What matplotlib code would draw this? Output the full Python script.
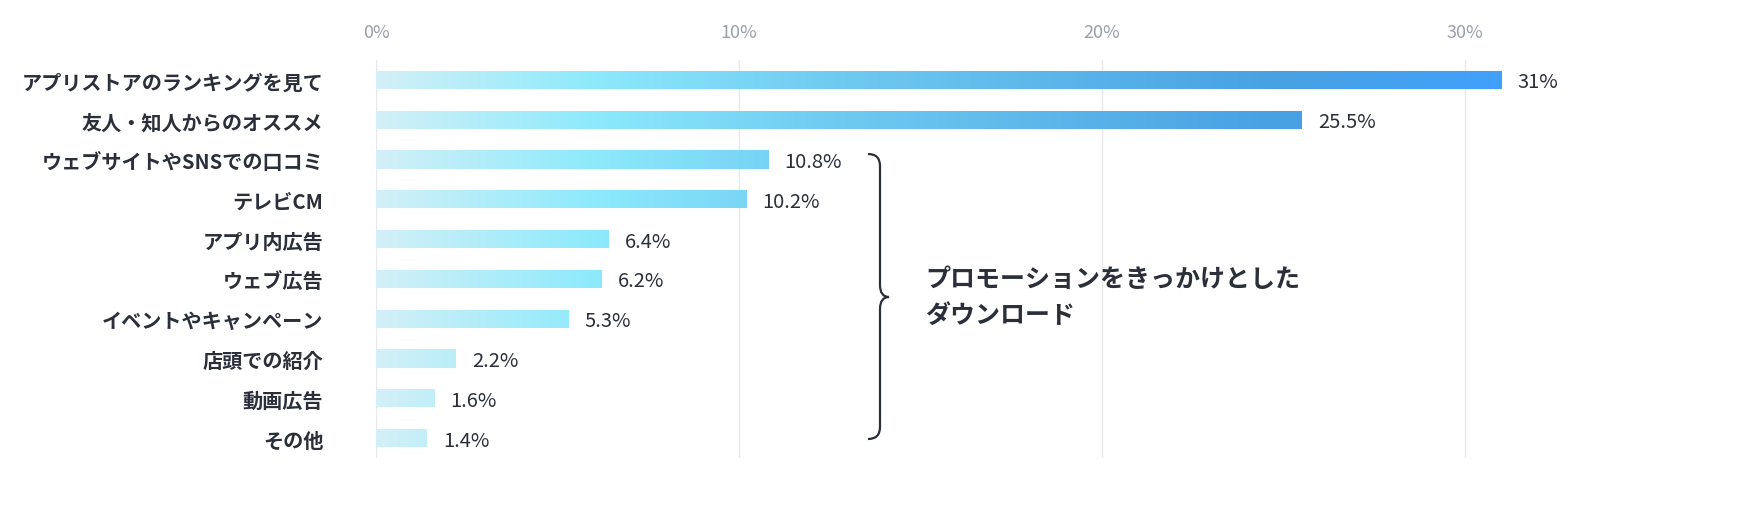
import matplotlib
matplotlib.use("Agg")
import matplotlib.pyplot as plt
import numpy as np
from matplotlib.colors import LinearSegmentedColormap
from matplotlib.path import Path
from matplotlib.patches import PathPatch

categories = ["アプリストアのランキングを見て", "友人・知人からのオススメ", "ウェブサイトやSNSでの口コミ",
              "テレビCM", "アプリ内広告", "ウェブ広告", "イベントやキャンペーン", "店頭での紹介", "動画広告", "その他"]
values = [31, 25.5, 10.8, 10.2, 6.4, 6.2, 5.3, 2.2, 1.6, 1.4]
value_labels = ["31%", "25.5%", "10.8%", "10.2%", "6.4%", "6.2%", "5.3%", "2.2%", "1.6%", "1.4%"]
ticks = [0, 10, 20, 30]
brace_text = "プロモーションをきっかけとした\nダウンロード"

plt.rcParams["font.family"] = "Noto Sans CJK JP"
W, H = 1746, 506
fig = plt.figure(figsize=(W/100, H/100), dpi=100)
left, right = 376, 376 + 32*36.3
top, bottom = 61, 459
ax = fig.add_axes([left/W, 1-bottom/H, (right-left)/W, (bottom-top)/H])
ax.set_xlim(0, 32)
n = len(values)

cmap = LinearSegmentedColormap.from_list("g", [(0, "#d3f0f7"), (6/31, "#8ceafc"), (12/31, "#72cdf2"),
                                               (25/31, "#47a0e2"), (1, "#40a0fb")])
grad = np.linspace(0, 1, 512).reshape(1, -1)
bh = 0.46
for i, v in enumerate(values):
    im = ax.imshow(grad, cmap=cmap, extent=[0, 31, i+bh/2, i-bh/2], aspect="auto", zorder=2)
    bar = ax.barh(i, v, height=bh, color="none", zorder=2)[0]
    im.set_clip_path(bar)
    ax.text(v + 0.45, i + 0.05, value_labels[i], va="center", ha="left", fontsize=14.5, color="#2a2f3a")

ax.set_yticks(range(n))
ax.set_yticklabels(categories, fontsize=14.5, fontweight="bold", color="#2a2f3a")
ax.tick_params(axis="y", length=0, pad=38)
ax.set_xticks(ticks)
ax.set_xticklabels([f"{t}%" for t in ticks], fontsize=13, color="#9aa0a8")
ax.xaxis.tick_top()
ax.tick_params(axis="x", length=0, pad=14)
ax.grid(axis="x", color="#e6e8ea", lw=1, zorder=0)
ax.set_axisbelow(True)
for s in ax.spines.values():
    s.set_visible(False)
ax.set_ylim(n-0.5, -0.5)

ov = fig.add_axes([0, 0, 1, 1], facecolor="none")
ov.set_xlim(0, W); ov.set_ylim(H, 0); ov.axis("off")
x0, y0, y1, ym = 868, 155, 440, 298
xm = 880
codes = [Path.MOVETO, Path.CURVE3, Path.CURVE3, Path.LINETO, Path.CURVE3, Path.CURVE3,
         Path.CURVE3, Path.CURVE3, Path.LINETO, Path.CURVE3, Path.CURVE3]
verts = [(x0, y0), (xm, y0), (xm, y0+12), (xm, ym-12), (xm, ym), (xm+9, ym),
         (xm, ym), (xm, ym+12), (xm, y1-12), (xm, y1), (x0, y1)]
ov.add_patch(PathPatch(Path(verts, codes), fill=False, lw=1.6, color="#2a2f3a"))
ov.text(925, 298, brace_text, fontsize=18, fontweight="bold", color="#2a2f3a",
        va="center", ha="left", linespacing=1.6)

fig.savefig("out.png", dpi=100)
